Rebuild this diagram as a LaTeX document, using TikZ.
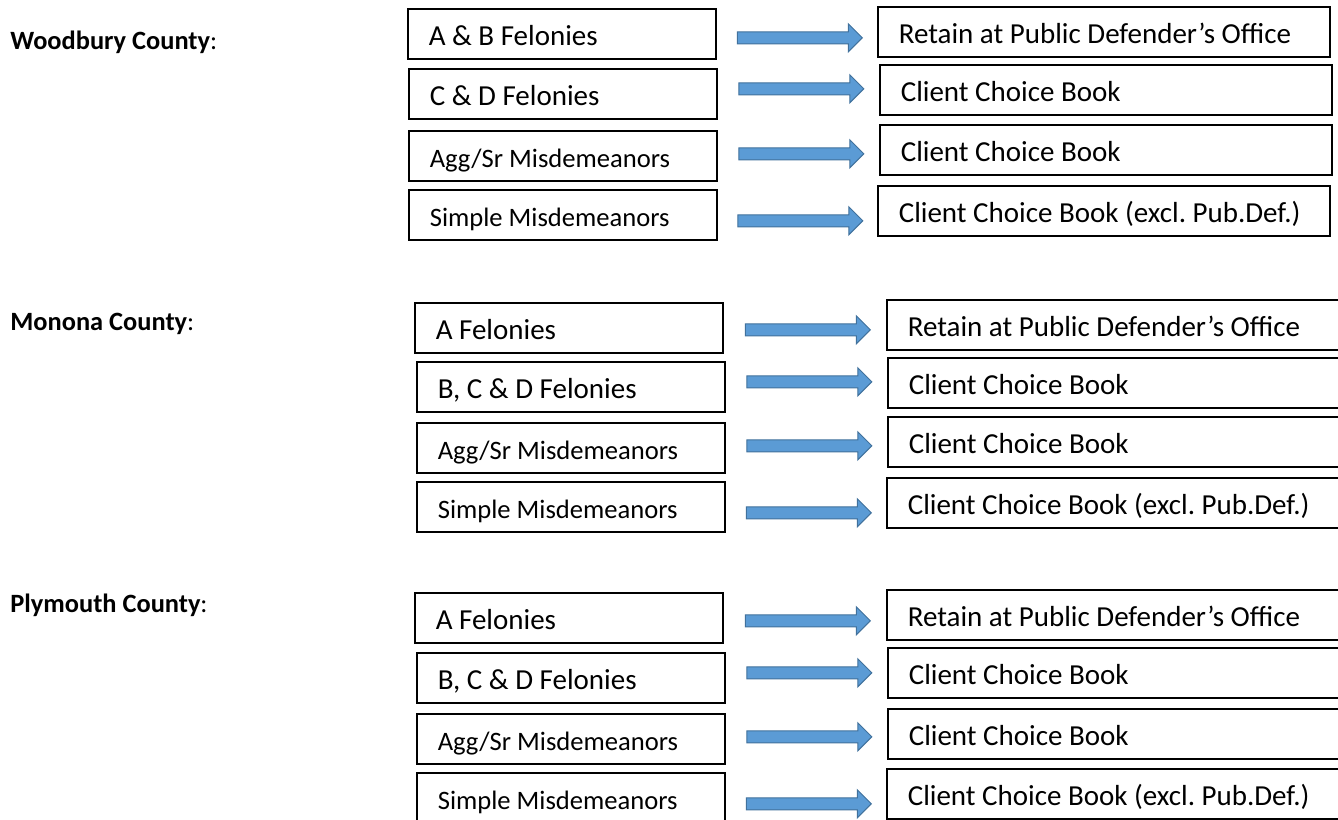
\documentclass[tikz,border=0pt]{standalone}
\usepackage{fontspec}
\setmainfont{Carlito}
\usetikzlibrary{shapes.arrows}
\definecolor{arrowblue}{HTML}{5B9BD5}
\definecolor{arrowedge}{HTML}{41719C}
\frenchspacing

\begin{document}
\begin{tikzpicture}[x=0.5pt, y=-0.5pt,
    county/.style={anchor=base west, inner sep=0pt, font=\fontsize{13.2}{16}\selectfont},
    cbox/.style={draw, line width=0.8pt, anchor=north west, inner xsep=10.5pt, inner ysep=0pt, text width=133pt, align=flush left, text height=18.5pt, text depth=6.5pt, font=\fontsize{14.5}{17}\selectfont},
    mbox/.style={cbox, font=\fontsize{13.3}{16}\selectfont},
    obox/.style={cbox, text width=205pt},
    fatarrow/.style={single arrow, draw=arrowedge, fill=arrowblue, line width=0.5pt, inner xsep=0pt, inner ysep=2.75pt, minimum height=62.5pt, single arrow head extend=4pt, midway}]

    \useasboundingbox (0,0) rectangle (1338,819);

    % Woodbury
    \node[county] (wood) at (10,49) {\textbf{Woodbury County}:};
    \node[cbox] (wl1) at (407,8) {A \& B Felonies};
    \node[cbox] (wl2) at (408,68) {C \& D Felonies};
    \node[mbox] (wl3) at (408,130) {Agg/Sr Misdemeanors};
    \node[mbox] (wl4) at (408,189) {Simple Misdemeanors};
    \node[obox] (wr1) at (877,6) {Retain at Public Defender’s Office};
    \node[obox] (wr2) at (879,64) {Client Choice Book};
    \node[obox] (wr3) at (879,124) {Client Choice Book};
    \node[obox] (wr4) at (877,185) {Client Choice Book (excl. Pub.Def.)};

    % Monona
    \node[county] (mono) at (10,330) {\textbf{Monona County}:};
    \node[cbox] (ml1) at (414,302) {A Felonies};
    \node[cbox] (ml2) at (416,361) {B, C \& D Felonies};
    \node[mbox] (ml3) at (416,422) {Agg/Sr Misdemeanors};
    \node[mbox] (ml4) at (416,481) {Simple Misdemeanors};
    \node[obox] (mr1) at (886,299) {Retain at Public Defender’s Office};
    \node[obox] (mr2) at (887,357) {Client Choice Book};
    \node[obox] (mr3) at (887,416) {Client Choice Book};
    \node[obox] (mr4) at (886,477) {Client Choice Book (excl. Pub.Def.)};

    % Plymouth
    \node[county] (plym) at (10,612) {\textbf{Plymouth County}:};
    \node[cbox] (pl1) at (414,592) {A Felonies};
    \node[cbox] (pl2) at (416,652) {B, C \& D Felonies};
    \node[mbox] (pl3) at (416,713) {Agg/Sr Misdemeanors};
    \node[mbox] (pl4) at (416,772) {Simple Misdemeanors};
    \node[obox] (pr1) at (886,589) {Retain at Public Defender’s Office};
    \node[obox] (pr2) at (887,647) {Client Choice Book};
    \node[obox] (pr3) at (887,708) {Client Choice Book};
    \node[obox] (pr4) at (886,768) {Client Choice Book (excl. Pub.Def.)};

    \path
        (wl1.east) -- (wr1.west) node[fatarrow, yshift=-2.5pt] {}
        (wl2.east) -- (wr2.west) node[fatarrow, yshift=1.5pt] {}
        (wl3.east) -- (wr3.west) node[fatarrow, yshift=-0.5pt] {}
        (wl4.east) -- (wr4.west) node[fatarrow, yshift=-4pt] {}
        (ml1.east) -- (mr1.west) node[fatarrow, yshift=-1.75pt] {}
        (ml2.east) -- (mr2.west) node[fatarrow, yshift=1.5pt] {}
        (ml3.east) -- (mr3.west) node[fatarrow, yshift=-0.5pt] {}
        (ml4.east) -- (mr4.west) node[fatarrow, yshift=-4pt] {}
        (pl1.east) -- (pr1.west) node[fatarrow, yshift=-2.25pt] {}
        (pl2.east) -- (pr2.west) node[fatarrow, yshift=1.25pt] {}
        (pl3.east) -- (pr3.west) node[fatarrow, yshift=-0.25pt] {}
        (pl4.east) -- (pr4.west) node[fatarrow, yshift=-4pt] {}
        ;
\end{tikzpicture}
\end{document}
